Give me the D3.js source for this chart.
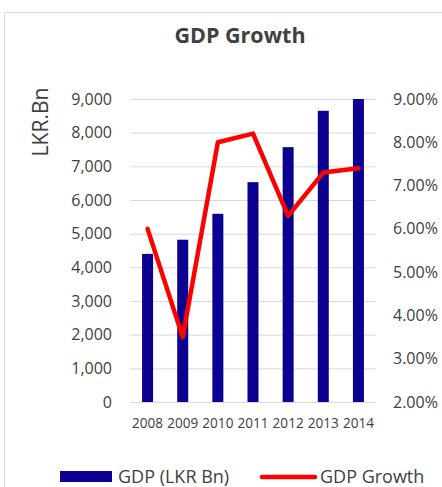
<!DOCTYPE html>
<html>
<head>
<meta charset="utf-8">
<script src="https://cdn.jsdelivr.net/npm/d3@7"></script>
<style>
  body { margin: 0; background: #fff; }
  svg text { font-family: "Open Sans", Lato, sans-serif; fill: #404040; }
</style>
</head>
<body>
<svg id="chart"></svg>
<script>
// данные
const years = ["2008", "2009", "2010", "2011", "2012", "2013", "2014"];
const gdp = [4400, 4820, 5590, 6530, 7570, 8650, 9000];
const growth = [6.0, 3.5, 8.0, 8.2, 6.3, 7.3, 7.4];
const leftTicks = [0, 1000, 2000, 3000, 4000, 5000, 6000, 7000, 8000, 9000];
const rightTicks = [2, 3, 4, 5, 6, 7, 8, 9];

const width = 442;
const height = 487;
const svg = d3.select("#chart").attr("width", width).attr("height", height);

// рамка
svg.append("rect").attr("x", 4.5).attr("y", 12.5).attr("width", 460).attr("height", 500)
    .attr("fill", "none").attr("stroke", "#d9d9d9");

const m = { left: 130, right: 376, top: 99, bottom: 402 };

const x = d3.scaleBand().domain(years).range([m.left, m.right]);
const yL = d3.scaleLinear().domain([0, 9000]).range([m.bottom, m.top]).clamp(true);
const yR = d3.scaleLinear().domain([2, 9]).range([m.bottom, m.top]);

// сетка
svg.append("g").selectAll("line").data(leftTicks).join("line")
    .attr("x1", m.left).attr("x2", m.right)
    .attr("y1", d => yL(d) + 0.5).attr("y2", d => yL(d) + 0.5)
    .attr("stroke", "#d9d9d9").attr("stroke-width", 1);

// левая ось
const axL = svg.append("g").attr("transform", `translate(${m.left},0)`)
    .call(d3.axisLeft(yL).tickValues(leftTicks).tickFormat(d3.format(",")).tickSize(0).tickPadding(18));
axL.select(".domain").remove();
axL.selectAll("text").style("font-size", "16px");

// правая ось
const axR = svg.append("g").attr("transform", `translate(${m.right},0)`)
    .call(d3.axisRight(yR).tickValues(rightTicks).tickFormat(d => d.toFixed(2) + "%").tickSize(0).tickPadding(17));
axR.select(".domain").remove();
axR.selectAll("text").style("font-size", "16px");

// ось x
const axX = svg.append("g").attr("transform", `translate(0,${m.bottom})`)
    .call(d3.axisBottom(x).tickSize(0).tickPadding(16));
axX.select(".domain").remove();
axX.selectAll("text").style("font-size", "13.6px");

// столбцы
const bw = 11;
svg.append("g").selectAll("rect").data(gdp).join("rect")
    .attr("x", (d, i) => x(years[i]) + x.bandwidth() / 2 - bw / 2)
    .attr("width", bw)
    .attr("y", d => yL(d))
    .attr("height", d => m.bottom - yL(d))
    .attr("fill", "#0c0090");

// линия
const line = d3.line()
    .x((d, i) => x(years[i]) + x.bandwidth() / 2)
    .y(d => yR(d));
svg.append("path").attr("d", line(growth))
    .attr("fill", "none").attr("stroke", "#ff0000").attr("stroke-width", 4.5)
    .attr("stroke-linecap", "round").attr("stroke-linejoin", "round");

// заголовок
svg.append("text").attr("x", 240).attr("y", 43).attr("text-anchor", "middle")
    .style("font-size", "21.5px").style("font-weight", "bold").text("GDP Growth");

// подпись оси
svg.append("text").attr("transform", "translate(48,122) rotate(-90)").attr("text-anchor", "middle")
    .style("font-size", "21px").text("LKR.Bn");

// легенда
const lg = svg.append("g");
lg.append("rect").attr("x", 60).attr("y", 471).attr("width", 52).attr("height", 11).attr("fill", "#0c0090");
lg.append("text").attr("x", 118).attr("y", 483).style("font-size", "18px").text("GDP (LKR Bn)");
lg.append("line").attr("x1", 262).attr("x2", 315).attr("y1", 477).attr("y2", 477)
    .attr("stroke", "#ff0000").attr("stroke-width", 4.5).attr("stroke-linecap", "round");
lg.append("text").attr("x", 320).attr("y", 483).style("font-size", "18px").text("GDP Growth");
</script>
</body>
</html>
